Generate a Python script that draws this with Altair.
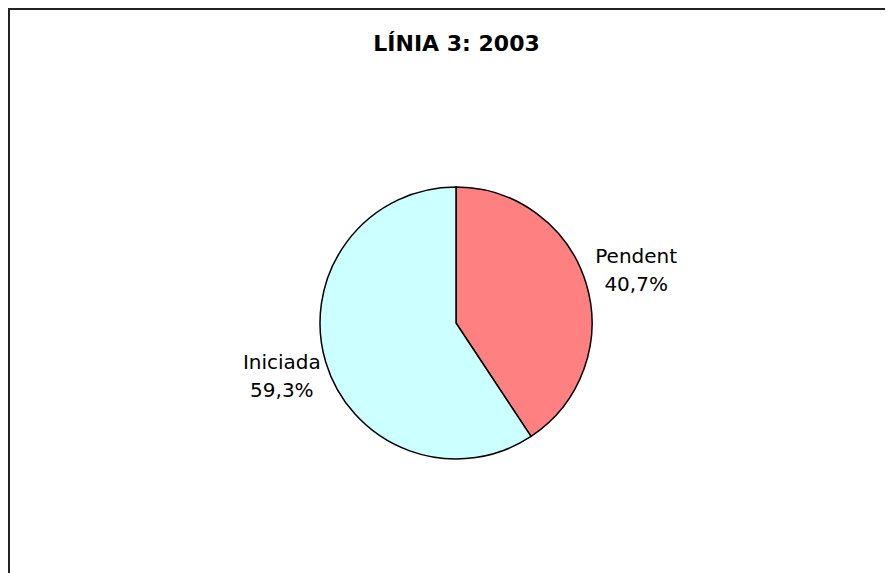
import altair as alt
import pandas as pd

categories = ["Pendent", "Iniciada"]
values = [40.7, 59.3]
colors = ["#FF8080", "#CCFFFF"]
title_text = "LÍNIA 3: 2003"

df = pd.DataFrame({"cat": categories, "value": values, "ord": list(range(len(categories)))})

W, H = 877, 565
CX, CY = 448, 315
R = 136

base = alt.Chart(df).encode(
    theta=alt.Theta("value:Q", stack=True),
    order=alt.Order("ord:Q"),
)

pie = base.mark_arc(outerRadius=R, stroke="black", strokeWidth=1.5).encode(
    color=alt.Color("cat:N", scale=alt.Scale(domain=categories, range=colors), legend=None),
    x=alt.value(CX),
    y=alt.value(CY),
)

labels = base.transform_calculate(
    label="datum.cat + '\\n' + replace(format(datum.value, '.1f'), '.', ',') + '%'"
).mark_text(
    radius=185, dy=-13, dx=3, font="DejaVu Sans", fontSize=20, lineHeight=28, lineBreak="\n",
    align="center", baseline="middle", color="black"
).encode(
    text="label:N",
    x=alt.value(CX),
    y=alt.value(CY),
)

frame_top = alt.Chart(df).mark_rule(color="#222222", strokeWidth=2).encode(
    x=alt.value(0), x2=alt.value(W), y=alt.value(1)
)
frame_left = alt.Chart(df).mark_rule(color="#222222", strokeWidth=2).encode(
    x=alt.value(1), y=alt.value(0), y2=alt.value(H)
)

chart = alt.layer(pie, labels, frame_top, frame_left).properties(
    width=W, height=H,
    title=alt.TitleParams(title_text, font="DejaVu Sans", fontSize=22, fontWeight="bold",
                          anchor="middle", offset=-49, dx=10, color="black"),
    padding={"left": 0, "top": 0, "right": 0, "bottom": 0},
    autosize=alt.AutoSizeParams(type="none"),
).configure_view(stroke=None)

chart.save("out.html", embed_options={"renderer": "svg", "actions": False})
